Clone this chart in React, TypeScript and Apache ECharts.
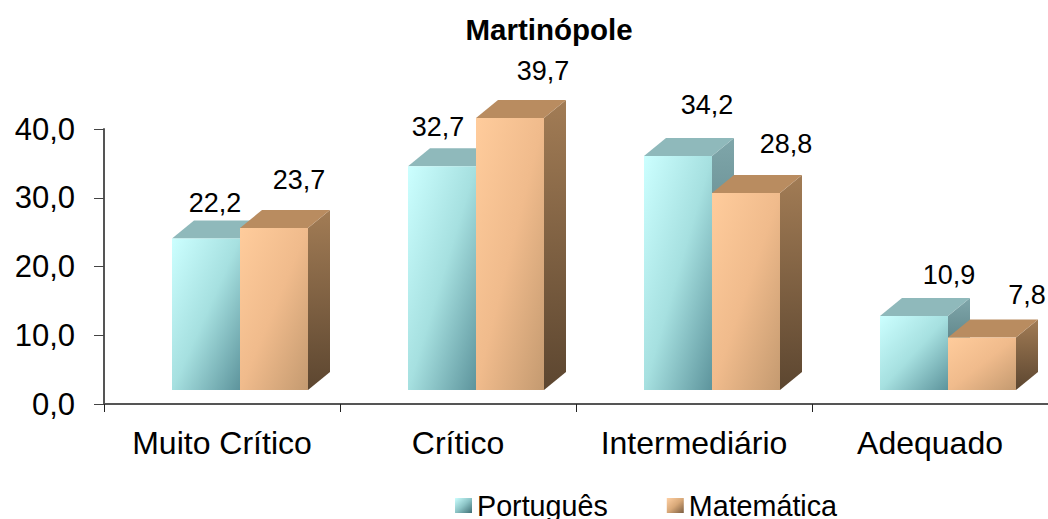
import React, { useEffect, useRef } from "react";
import * as echarts from "echarts";

const categories = ["Muito Crítico", "Crítico", "Intermediário", "Adequado"];
const portugues = [22.2, 32.7, 34.2, 10.9];
const matematica = [23.7, 39.7, 28.8, 7.8];
const portuguesNudge = [[9, -35], [-4, -39], [29, -51], [35, -41]];
const matematicaNudge = [[25, -48], [33, -47], [40, -49], [45, -42]];

const FONT = "'Liberation Sans', Arial, sans-serif";
const grad = (stops: string[]) =>
  new echarts.graphic.LinearGradient(0, 0, 1, 1, stops.map((c, i) => ({ offset: i / (stops.length - 1), color: c })));
const vgrad = (a: string, b: string) =>
  new echarts.graphic.LinearGradient(0, 0, 0, 1, [{ offset: 0, color: a }, { offset: 1, color: b }]);

const fmt = (v: number) => v.toFixed(1).replace(".", ",");

function makeRender(
  startShare: number,
  front: any,
  top: string,
  side: any,
  nudges: number[][],
) {
  return (params: any, api: any) => {
    const i = api.value(0);
    const v = api.value(1);
    const band = api.size([1, 0])[0];
    const w = (band * 68) / 236;
    const dx = 22;
    const dy = 18;
    const c = api.coord([i, v]);
    const zero = api.coord([i, 0]);
    const x0 = zero[0] + band * startShare;
    const x1 = x0 + w;
    const yT = c[1] - 13;
    const yB = zero[1] - 14;
    const n = nudges[params.dataIndex];
    return {
      type: "group",
      children: [
        {
          type: "polygon",
          shape: { points: [[x1, yT], [x1 + dx, yT - dy], [x1 + dx, yB - dy], [x1, yB]] },
          style: { fill: side },
        },
        {
          type: "polygon",
          shape: { points: [[x0, yT], [x0 + dx, yT - dy], [x1 + dx, yT - dy], [x1, yT]] },
          style: { fill: top },
        },
        {
          type: "rect",
          shape: { x: x0, y: yT, width: w, height: yB - yT },
          style: { fill: front },
        },
        {
          type: "text",
          x: (x0 + x1) / 2 + n[0],
          y: yT + n[1],
          style: {
            text: fmt(v),
            fill: "#000",
            font: `27px ${FONT}`,
            textAlign: "center",
            textVerticalAlign: "middle",
          },
        },
      ],
    };
  };
}

export default function App() {
  const ref = useRef<HTMLDivElement>(null);
  useEffect(() => {
    document.body.style.margin = "0";
    const chart = echarts.init(ref.current!, null, { renderer: "svg" });
    const frontP = grad(["#ccffff", "#a6e0e0", "#5d949c"]);
    const frontM = grad(["#ffcc9c", "#f0bb8c", "#c49a70"]);
    chart.setOption({
      animation: false,
      backgroundColor: "#fff",
      title: {
        text: "Martinópole",
        left: 549,
        top: 9,
        textAlign: "center",
        textStyle: { fontFamily: FONT, fontWeight: "bold", fontSize: 29.5, color: "#000" },
      },
      legend: {
        left: 455,
        top: 491,
        padding: 0,
        itemWidth: 17,
        itemHeight: 15,
        itemGap: 59,
        icon: "rect",
        selectedMode: false,
        textStyle: { fontFamily: FONT, fontSize: 28.7, color: "#000" },
        data: ["Português", "Matemática"],
      },
      grid: { left: 104, right: 0, top: 129, bottom: 115, containLabel: false },
      xAxis: {
        type: "category",
        data: categories,
        axisLine: { lineStyle: { color: "#555", width: 2 } },
        axisTick: { show: true, length: 8, lineStyle: { color: "#222", width: 1 } },
        axisLabel: { fontFamily: FONT, fontSize: 32, color: "#000", margin: 23, interval: 0 },
      },
      yAxis: {
        type: "value",
        min: 0,
        max: 40,
        interval: 10,
        splitLine: { show: false },
        axisLine: { show: true, lineStyle: { color: "#555", width: 2 } },
        axisTick: { show: true, length: 10, lineStyle: { color: "#444", width: 1 } },
        axisLabel: { fontFamily: FONT, fontSize: 31, color: "#000", margin: 29, formatter: fmt },
      },
      series: [
        {
          type: "custom",
          name: "Português",
          itemStyle: { color: grad(["#ccffff", "#8cc4c6", "#3f6e74"]) },
          data: portugues.map((v, i) => [i, v]),
          encode: { x: 0, y: 1 },
          clip: false,
          renderItem: makeRender(-50 / 236, frontP, "#8fb9bb", vgrad("#7fa6aa", "#3f656a"), portuguesNudge),
        },
        {
          type: "custom",
          name: "Matemática",
          itemStyle: { color: grad(["#ffd0a4", "#d8a878", "#7a5c40"]) },
          data: matematica.map((v, i) => [i, v]),
          encode: { x: 0, y: 1 },
          clip: false,
          renderItem: makeRender(18 / 236, frontM, "#b98c60", vgrad("#a27c55", "#5c4630"), matematicaNudge),
        },
      ],
      graphic: [],
    });
    chart.setOption({ title: { left: 544 } });
    return () => chart.dispose();
  }, []);
  return <div ref={ref} style={{ width: 1048, height: 519 }} />;
}
